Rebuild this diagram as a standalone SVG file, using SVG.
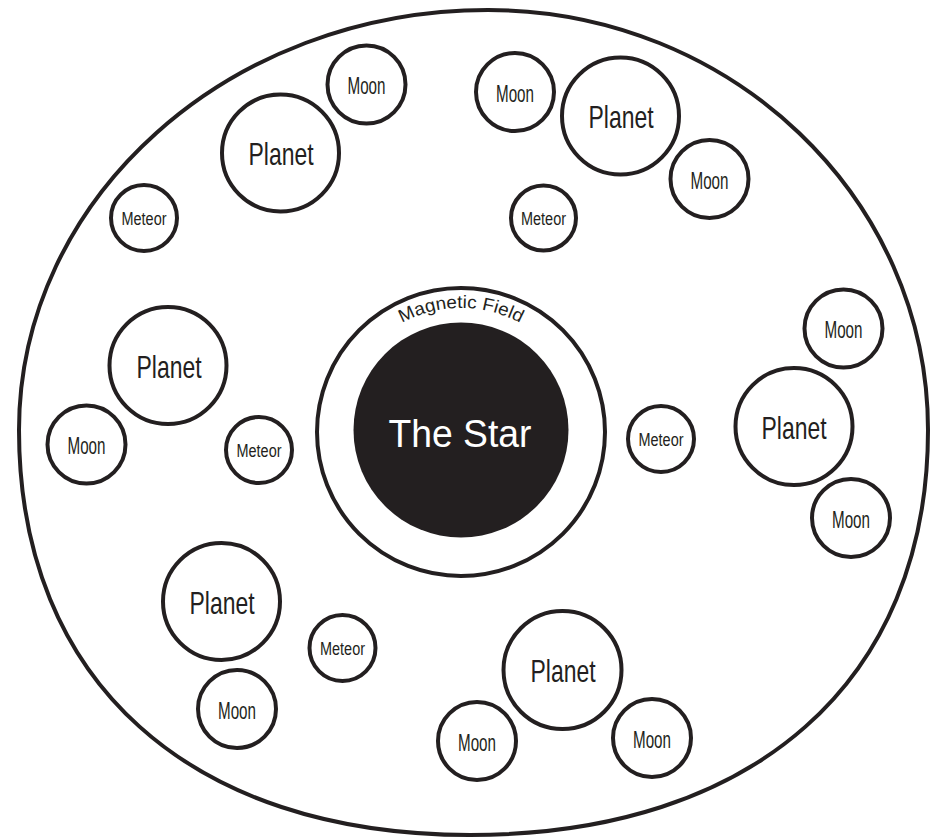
<svg xmlns="http://www.w3.org/2000/svg" width="939" height="837" viewBox="0 0 939 837">
<style>
.ring{fill:#ffffff;stroke:#231f20;stroke-width:4}
.lbl{font-family:"Liberation Sans Narrow","Liberation Sans",Arial,sans-serif;fill:#231f20;text-anchor:middle}
.planet{font-size:32px}
.moon{font-size:24px}
.meteor{font-size:18px}
</style>
<defs>
<path id="fieldArc" d="M 353.6 370 A 124 124 0 0 1 568.4 370"/>
</defs>
<rect width="939" height="837" fill="#ffffff"/>
<g id="system">
<path class="ring" d="M 488 10 C 731 10 928 198 928 430 C 928 681 754 835 470 835 C 190 835 19 681 19 430 C 19 198 229 10 488 10 Z"/>
</g>
<g id="magnetic-field">
<circle class="ring" cx="461" cy="432" r="144"/>
<text class="lbl" font-size="18"><textPath href="#fieldArc" startOffset="50%" textLength="123" lengthAdjust="spacingAndGlyphs">Magnetic Field</textPath></text>
</g>
<g id="star">
<circle cx="461" cy="430" r="107.5" fill="#231f20"/>
<text class="lbl" x="460" y="447" font-size="38" style="fill:#ffffff" textLength="143" lengthAdjust="spacingAndGlyphs">The Star</text>
</g>
<!-- top-left cluster -->
<g id="planet-1"><circle class="ring" cx="280.5" cy="153" r="58.5"/><text class="lbl planet" x="281" y="165" textLength="65" lengthAdjust="spacingAndGlyphs">Planet</text></g>
<g id="moon-1a"><circle class="ring" cx="366.5" cy="84.5" r="39"/><text class="lbl moon" x="366.5" y="94" textLength="38" lengthAdjust="spacingAndGlyphs">Moon</text></g>
<g id="meteor-1"><circle class="ring" cx="144" cy="218" r="33"/><text class="lbl meteor" x="144" y="224.5" textLength="45" lengthAdjust="spacingAndGlyphs">Meteor</text></g>
<!-- top-right cluster -->
<g id="planet-2"><circle class="ring" cx="620.5" cy="116" r="58.5"/><text class="lbl planet" x="621" y="128" textLength="65" lengthAdjust="spacingAndGlyphs">Planet</text></g>
<g id="moon-2a"><circle class="ring" cx="515" cy="92" r="39"/><text class="lbl moon" x="515" y="101.5" textLength="38" lengthAdjust="spacingAndGlyphs">Moon</text></g>
<g id="moon-2b"><circle class="ring" cx="709.5" cy="179" r="39"/><text class="lbl moon" x="709.5" y="188.5" textLength="38" lengthAdjust="spacingAndGlyphs">Moon</text></g>
<g id="meteor-2"><circle class="ring" cx="543.5" cy="218" r="32.5"/><text class="lbl meteor" x="543.5" y="224.5" textLength="45" lengthAdjust="spacingAndGlyphs">Meteor</text></g>
<!-- left cluster -->
<g id="planet-3"><circle class="ring" cx="168" cy="365.5" r="58.5"/><text class="lbl planet" x="169" y="377.5" textLength="65" lengthAdjust="spacingAndGlyphs">Planet</text></g>
<g id="moon-3a"><circle class="ring" cx="86.5" cy="444.5" r="39"/><text class="lbl moon" x="86.5" y="454" textLength="38" lengthAdjust="spacingAndGlyphs">Moon</text></g>
<g id="meteor-3"><circle class="ring" cx="259" cy="450" r="33"/><text class="lbl meteor" x="259" y="457" textLength="45" lengthAdjust="spacingAndGlyphs">Meteor</text></g>
<!-- right cluster -->
<g id="planet-4"><circle class="ring" cx="794" cy="426.5" r="58.5"/><text class="lbl planet" x="794" y="438.5" textLength="65" lengthAdjust="spacingAndGlyphs">Planet</text></g>
<g id="moon-4a"><circle class="ring" cx="843.5" cy="328.5" r="39"/><text class="lbl moon" x="843.5" y="338" textLength="38" lengthAdjust="spacingAndGlyphs">Moon</text></g>
<g id="moon-4b"><circle class="ring" cx="851" cy="518" r="39"/><text class="lbl moon" x="851" y="527.5" textLength="38" lengthAdjust="spacingAndGlyphs">Moon</text></g>
<g id="meteor-4"><circle class="ring" cx="661" cy="439" r="33"/><text class="lbl meteor" x="661" y="445.5" textLength="45" lengthAdjust="spacingAndGlyphs">Meteor</text></g>
<!-- bottom-left cluster -->
<g id="planet-5"><circle class="ring" cx="221.5" cy="601.5" r="58.5"/><text class="lbl planet" x="222" y="613.5" textLength="65" lengthAdjust="spacingAndGlyphs">Planet</text></g>
<g id="moon-5a"><circle class="ring" cx="237" cy="709" r="39"/><text class="lbl moon" x="237" y="718.5" textLength="38" lengthAdjust="spacingAndGlyphs">Moon</text></g>
<g id="meteor-5"><circle class="ring" cx="342.5" cy="648" r="33"/><text class="lbl meteor" x="342.5" y="654.5" textLength="45" lengthAdjust="spacingAndGlyphs">Meteor</text></g>
<!-- bottom-right cluster -->
<g id="planet-6"><circle class="ring" cx="562.5" cy="670" r="59"/><text class="lbl planet" x="563" y="682" textLength="65" lengthAdjust="spacingAndGlyphs">Planet</text></g>
<g id="moon-6a"><circle class="ring" cx="477" cy="741" r="39"/><text class="lbl moon" x="477" y="750.5" textLength="38" lengthAdjust="spacingAndGlyphs">Moon</text></g>
<g id="moon-6b"><circle class="ring" cx="652" cy="738" r="39"/><text class="lbl moon" x="652" y="747.5" textLength="38" lengthAdjust="spacingAndGlyphs">Moon</text></g>
</svg>
